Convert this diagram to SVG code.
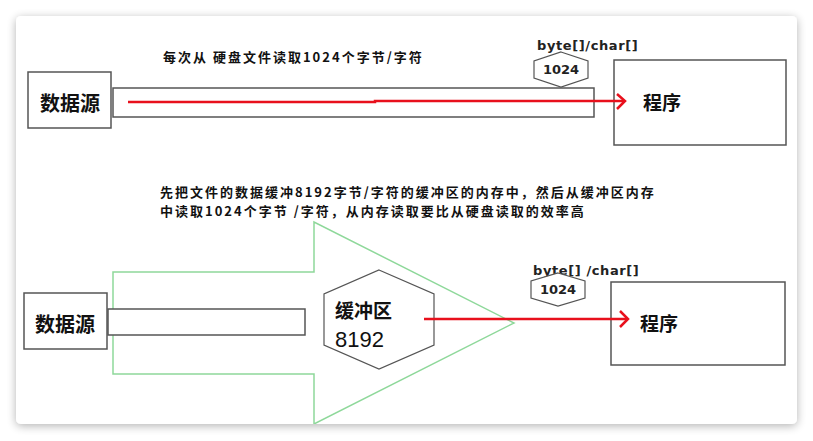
<svg xmlns="http://www.w3.org/2000/svg" width="813" height="441" viewBox="0 0 813 441">
  <defs>
    <filter id="shadow" x="-5%" y="-5%" width="110%" height="110%">
      <feGaussianBlur in="SourceAlpha" stdDeviation="5"/>
      <feOffset dx="0" dy="2"/>
      <feComponentTransfer><feFuncA type="linear" slope="0.3"/></feComponentTransfer>
      <feMerge><feMergeNode/><feMergeNode in="SourceGraphic"/></feMerge>
    </filter>
    <clipPath id="cardClip"><rect x="16" y="16" width="781" height="408" rx="5"/></clipPath>
  </defs>
  <style>
    .box { fill: #ffffff; stroke: #555555; stroke-width: 1.5; }
    .hex { fill: #ffffff; stroke: #555555; stroke-width: 1.2; }
    .cn { font-family: "Noto Sans CJK SC", sans-serif; font-weight: bold; fill: #111111; }
    .note { font-size: 13px; letter-spacing: 2px; }
    .lat { font-family: "DejaVu Sans", "Liberation Sans", sans-serif; font-weight: bold; fill: #222222; }
    .red { stroke: #e8101c; stroke-width: 2.5; fill: none; }
    .green { fill: none; stroke: #8ed89a; stroke-width: 1.5; }
  </style>
  <rect x="0" y="0" width="813" height="441" fill="#ffffff"/>
  <rect x="16" y="16" width="781" height="408" rx="5" fill="#ffffff" filter="url(#shadow)"/>

  <g clip-path="url(#cardClip)">
    <!-- top section -->
    <text class="cn note" x="163" y="62">每次从 硬盘文件读取1024个字节/字符</text>

    <g id="source1">
      <rect class="box" x="28" y="72" width="83" height="56"/>
      <text class="cn" x="70" y="111" font-size="20" text-anchor="middle">数据源</text>
    </g>
    <g id="pipe1">
      <rect class="box" x="113" y="88" width="481" height="29"/>
    </g>
    <g id="buf1">
      <text class="lat" x="537" y="50" font-size="13" letter-spacing="0.6">byte[]/char[]</text>
      <polygon class="hex" points="561,52 588,61 588,78 561,87 534,78 534,61"/>
      <text class="lat" x="561" y="74" font-size="13" text-anchor="middle">1024</text>
    </g>
    <g id="program1">
      <rect class="box" x="614" y="60" width="172" height="85"/>
      <text class="cn" x="643" y="110" font-size="19">程序</text>
    </g>

    <!-- bottom section -->
    <text class="cn note" x="160" y="197">先把文件的数据缓冲8192字节/字符的缓冲区的内存中，然后从缓冲区内存</text>
    <text class="cn note" x="160" y="216">中读取1024个字节 /字符，从内存读取要比从硬盘读取的效率高</text>

    <g id="bigArrow">
      <polygon class="green" points="113,272 314,272 314,222 514,323 314,424 314,374 113,374"/>
    </g>
    <g id="source2">
      <rect class="box" x="24" y="293" width="83" height="56"/>
      <text class="cn" x="65" y="332" font-size="20" text-anchor="middle">数据源</text>
    </g>
    <g id="pipe2">
      <rect class="box" x="108" y="309" width="197" height="26"/>
    </g>
    <g id="buffer">
      <polygon class="hex" points="379,270 434,294 434,345 379,369 324,345 324,294"/>
      <text class="cn" x="335" y="318" font-size="19">缓冲区</text>
      <text x="335" y="347" font-size="22" font-family="Liberation Sans, Arial, sans-serif" fill="#111111">8192</text>
    </g>
    <g id="buf2">
      <text class="lat" x="533" y="275" font-size="13" letter-spacing="0.6">byte[] /char[]</text>
      <polygon class="hex" points="558,273 585,281 585,298 558,306 531,298 531,281"/>
      <text class="lat" x="558" y="294" font-size="13" text-anchor="middle">1024</text>
    </g>
    <g id="program2">
      <rect class="box" x="611" y="282" width="174" height="83"/>
      <text class="cn" x="640" y="331" font-size="19">程序</text>
    </g>

    <g id="connectors">
      <path class="red" d="M128,102 L375,102 L375,101 L624,101"/>
      <path class="red" d="M617,94 L625,101 L617,109"/>
      <path class="red" d="M424,319 L628,319"/>
      <path class="red" d="M620,311 L628,319 L620,327"/>
    </g>
  </g>
</svg>
